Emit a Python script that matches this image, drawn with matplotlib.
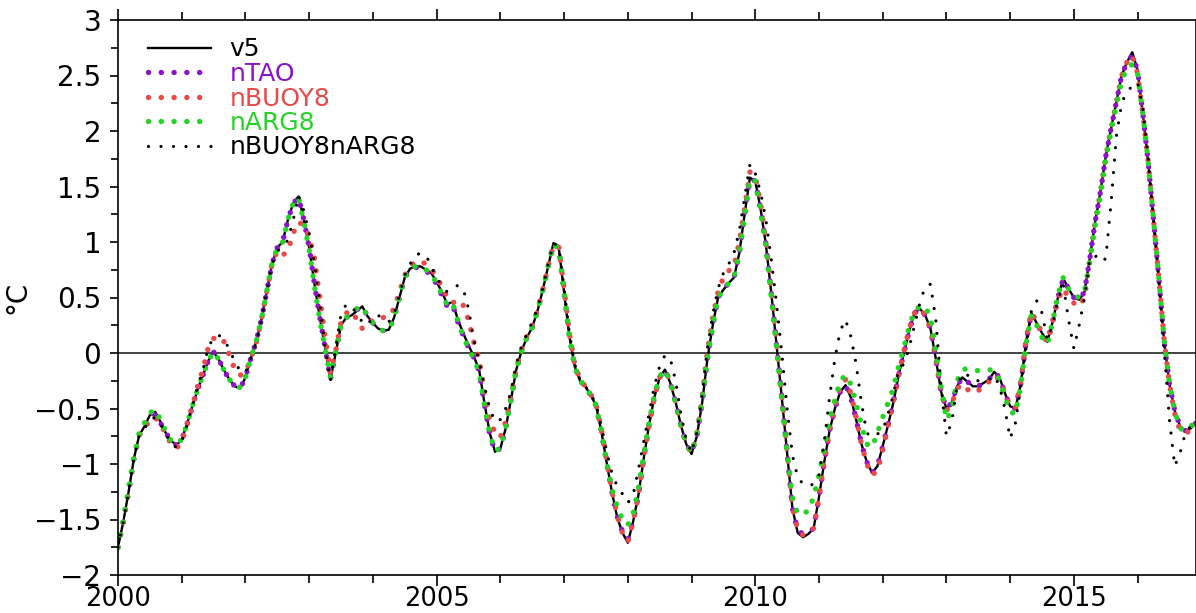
import numpy as np
import matplotlib
matplotlib.use("Agg")
import matplotlib.pyplot as plt
from matplotlib.ticker import MultipleLocator, FuncFormatter

# ---- data (monthly, Jan 2000 .. Dec 2016) ----
start_year = 2000
v5 = [
    -1.75,-1.52,-1.25,-0.95,-0.74,-0.66,-0.56,-0.53,-0.62,-0.72,-0.79,-0.83,
    -0.78,-0.64,-0.48,-0.33,-0.20,-0.07,0.01,-0.06,-0.16,-0.24,-0.30,-0.32,
    -0.22,-0.05,0.10,0.30,0.55,0.80,0.95,1.00,1.20,1.35,1.41,1.20,
    0.95,0.62,0.32,0.05,-0.24,0.00,0.25,0.32,0.34,0.38,0.42,0.33,
    0.27,0.22,0.20,0.21,0.32,0.50,0.68,0.76,0.78,0.78,0.75,0.72,
    0.64,0.55,0.44,0.46,0.30,0.18,0.07,-0.03,-0.15,-0.45,-0.72,-0.89,
    -0.86,-0.68,-0.42,-0.15,0.02,0.14,0.23,0.38,0.57,0.78,0.99,0.95,
    0.55,0.15,-0.12,-0.25,-0.30,-0.38,-0.47,-0.70,-0.98,-1.25,-1.48,-1.62,
    -1.71,-1.52,-1.28,-0.95,-0.65,-0.40,-0.22,-0.15,-0.27,-0.44,-0.65,-0.82,
    -0.91,-0.75,-0.45,-0.05,0.25,0.50,0.57,0.63,0.68,0.90,1.25,1.58,
    1.55,1.30,0.98,0.55,0.08,-0.40,-0.90,-1.40,-1.62,-1.66,-1.63,-1.58,
    -1.30,-0.98,-0.70,-0.50,-0.35,-0.29,-0.40,-0.60,-0.82,-0.98,-1.08,-1.02,
    -0.84,-0.65,-0.45,-0.20,0.00,0.20,0.36,0.40,0.34,0.22,-0.05,-0.35,
    -0.50,-0.45,-0.30,-0.22,-0.26,-0.30,-0.30,-0.27,-0.24,-0.17,-0.22,-0.36,
    -0.48,-0.50,-0.28,0.10,0.36,0.27,0.18,0.10,0.28,0.50,0.67,0.58,
    0.50,0.48,0.55,0.85,1.18,1.45,1.77,2.02,2.26,2.50,2.62,2.71,
    2.55,2.15,1.72,1.20,0.68,0.10,-0.28,-0.52,-0.66,-0.70,-0.68,-0.63,
]
nTAO = [
    -1.75,-1.52,-1.25,-0.95,-0.74,-0.66,-0.57,-0.55,-0.63,-0.72,-0.79,-0.83,
    -0.78,-0.64,-0.48,-0.33,-0.20,-0.07,0.01,-0.06,-0.16,-0.24,-0.30,-0.32,
    -0.22,-0.05,0.10,0.30,0.55,0.80,0.95,1.00,1.20,1.35,1.40,1.20,
    0.95,0.62,0.32,0.05,-0.24,0.00,0.25,0.32,0.35,0.39,0.42,0.33,
    0.27,0.22,0.20,0.21,0.32,0.50,0.68,0.75,0.77,0.77,0.74,0.70,
    0.62,0.52,0.42,0.44,0.28,0.16,0.05,-0.04,-0.16,-0.46,-0.73,-0.89,
    -0.86,-0.68,-0.42,-0.15,0.02,0.14,0.23,0.38,0.57,0.78,0.98,0.95,
    0.55,0.15,-0.12,-0.25,-0.30,-0.38,-0.47,-0.70,-0.98,-1.25,-1.47,-1.61,
    -1.68,-1.52,-1.28,-0.95,-0.65,-0.40,-0.22,-0.15,-0.27,-0.44,-0.65,-0.82,
    -0.90,-0.75,-0.45,-0.05,0.25,0.50,0.57,0.63,0.68,0.90,1.25,1.57,
    1.55,1.30,0.98,0.55,0.08,-0.40,-0.90,-1.40,-1.60,-1.63,-1.62,-1.58,
    -1.30,-0.98,-0.70,-0.50,-0.35,-0.29,-0.40,-0.60,-0.82,-0.98,-1.08,-1.02,
    -0.84,-0.65,-0.45,-0.20,0.00,0.20,0.36,0.40,0.34,0.22,-0.05,-0.35,
    -0.50,-0.45,-0.30,-0.22,-0.26,-0.30,-0.30,-0.27,-0.24,-0.17,-0.22,-0.36,
    -0.48,-0.50,-0.28,0.10,0.36,0.27,0.18,0.10,0.28,0.50,0.67,0.58,
    0.50,0.48,0.55,0.85,1.18,1.45,1.77,2.02,2.26,2.50,2.62,2.68,
    2.55,2.15,1.72,1.20,0.68,0.10,-0.28,-0.52,-0.66,-0.70,-0.68,-0.63,
]
nBUOY8 = [
    -1.75,-1.52,-1.25,-0.95,-0.74,-0.68,-0.60,-0.58,-0.64,-0.73,-0.82,-0.86,
    -0.80,-0.65,-0.48,-0.30,-0.15,0.05,0.13,0.15,0.10,-0.02,-0.15,-0.20,
    -0.18,-0.05,0.08,0.30,0.55,0.80,0.92,0.88,0.92,1.08,1.18,1.15,
    1.05,0.85,0.50,0.15,-0.18,0.02,0.28,0.36,0.38,0.30,0.22,0.24,
    0.30,0.32,0.32,0.33,0.40,0.55,0.70,0.78,0.82,0.83,0.80,0.76,
    0.68,0.60,0.50,0.45,0.48,0.43,0.30,0.10,-0.05,-0.35,-0.60,-0.72,
    -0.76,-0.62,-0.40,-0.14,0.03,0.15,0.24,0.38,0.57,0.78,0.97,0.96,
    0.58,0.18,-0.10,-0.24,-0.30,-0.37,-0.46,-0.68,-0.96,-1.24,-1.46,-1.62,
    -1.70,-1.52,-1.28,-0.95,-0.65,-0.40,-0.22,-0.17,-0.24,-0.44,-0.65,-0.82,
    -0.90,-0.74,-0.40,0.02,0.32,0.55,0.68,0.74,0.78,1.00,1.30,1.63,
    1.60,1.35,1.00,0.57,0.10,-0.38,-0.88,-1.38,-1.60,-1.64,-1.62,-1.58,
    -1.30,-0.98,-0.70,-0.48,-0.30,-0.24,-0.36,-0.58,-0.82,-1.00,-1.10,-1.06,
    -0.88,-0.66,-0.44,-0.20,0.02,0.22,0.36,0.40,0.34,0.22,-0.05,-0.36,
    -0.52,-0.46,-0.32,-0.28,-0.33,-0.36,-0.34,-0.30,-0.26,-0.20,-0.24,-0.36,
    -0.48,-0.50,-0.26,0.12,0.37,0.28,0.18,0.10,0.28,0.48,0.58,0.50,
    0.45,0.42,0.50,0.84,1.18,1.45,1.77,2.02,2.26,2.50,2.62,2.68,
    2.52,2.15,1.72,1.20,0.68,0.12,-0.28,-0.55,-0.70,-0.72,-0.70,-0.64,
]
nARG8 = [
    -1.75,-1.50,-1.22,-0.93,-0.72,-0.63,-0.54,-0.51,-0.60,-0.71,-0.79,-0.82,
    -0.78,-0.64,-0.48,-0.33,-0.20,-0.07,0.01,-0.06,-0.16,-0.24,-0.30,-0.31,
    -0.22,-0.05,0.10,0.30,0.55,0.80,0.95,1.00,1.20,1.35,1.40,1.18,
    0.93,0.60,0.30,0.04,-0.22,0.01,0.25,0.32,0.36,0.40,0.42,0.33,
    0.27,0.22,0.20,0.21,0.32,0.50,0.68,0.76,0.78,0.78,0.75,0.71,
    0.63,0.53,0.43,0.45,0.29,0.15,0.04,-0.05,-0.17,-0.47,-0.73,-0.88,
    -0.86,-0.68,-0.42,-0.15,0.02,0.14,0.23,0.38,0.57,0.78,0.98,0.94,
    0.55,0.15,-0.12,-0.25,-0.30,-0.38,-0.47,-0.70,-0.98,-1.22,-1.38,-1.50,
    -1.55,-1.45,-1.22,-0.92,-0.63,-0.38,-0.21,-0.15,-0.27,-0.44,-0.65,-0.82,
    -0.90,-0.74,-0.44,-0.05,0.25,0.50,0.57,0.63,0.68,0.90,1.22,1.57,
    1.55,1.28,0.96,0.52,0.05,-0.42,-0.90,-1.30,-1.45,-1.45,-1.42,-1.30,
    -1.10,-0.85,-0.60,-0.42,-0.25,-0.20,-0.28,-0.45,-0.65,-0.82,-0.85,-0.72,
    -0.58,-0.45,-0.32,-0.12,0.05,0.24,0.38,0.42,0.42,0.32,0.02,-0.30,
    -0.60,-0.52,-0.25,-0.15,-0.14,-0.15,-0.16,-0.16,-0.15,-0.16,-0.24,-0.40,
    -0.53,-0.55,-0.30,0.08,0.34,0.25,0.14,0.08,0.28,0.52,0.68,0.58,
    0.52,0.50,0.55,0.83,1.15,1.42,1.74,2.00,2.23,2.45,2.57,2.60,
    2.52,2.15,1.72,1.20,0.68,0.12,-0.27,-0.52,-0.68,-0.70,-0.66,-0.62,
]
nBUOY8nARG8 = [
    -1.75,-1.52,-1.25,-0.95,-0.74,-0.68,-0.60,-0.58,-0.64,-0.73,-0.82,-0.85,
    -0.80,-0.65,-0.48,-0.30,-0.15,0.05,0.14,0.16,0.12,0.03,-0.08,-0.16,
    -0.18,-0.05,0.08,0.30,0.55,0.80,0.92,0.95,1.02,1.20,1.42,1.28,
    1.08,0.80,0.45,0.05,-0.25,0.05,0.35,0.44,0.42,0.35,0.28,0.25,
    0.33,0.34,0.30,0.28,0.35,0.52,0.70,0.80,0.88,0.90,0.88,0.78,
    0.68,0.60,0.55,0.58,0.61,0.58,0.40,0.12,-0.08,-0.30,-0.50,-0.62,
    -0.60,-0.50,-0.35,-0.10,0.06,0.17,0.28,0.40,0.58,0.80,0.99,0.96,
    0.58,0.18,-0.10,-0.24,-0.30,-0.37,-0.46,-0.65,-0.88,-1.08,-1.20,-1.27,
    -1.35,-1.28,-1.05,-0.80,-0.55,-0.30,-0.12,-0.02,-0.05,-0.25,-0.55,-0.78,
    -0.90,-0.72,-0.38,0.05,0.35,0.58,0.72,0.80,0.90,1.10,1.40,1.70,
    1.62,1.45,1.20,0.85,0.45,0.00,-0.50,-0.92,-1.12,-1.18,-1.20,-1.18,
    -1.10,-0.80,-0.40,-0.05,0.20,0.30,0.15,-0.10,-0.45,-0.72,-0.76,-0.73,
    -0.70,-0.55,-0.38,-0.15,-0.10,0.05,0.25,0.45,0.60,0.62,0.30,-0.30,
    -0.75,-0.62,-0.30,-0.18,-0.20,-0.25,-0.25,-0.25,-0.24,-0.20,-0.30,-0.50,
    -0.77,-0.63,-0.30,0.05,0.38,0.47,0.36,0.12,0.25,0.48,0.62,0.30,
    0.04,0.25,0.50,0.85,0.88,0.82,0.85,1.35,1.95,2.25,2.36,2.40,
    2.44,2.20,1.75,1.20,0.65,0.05,-0.60,-1.02,-0.90,-0.72,-0.66,-0.63,
]
series_names = ["v5", "nTAO", "nBUOY8", "nARG8", "nBUOY8nARG8"]
series_values = [v5, nTAO, nBUOY8, nARG8, nBUOY8nARG8]
ylabel_text = "°C"

# ---- styling ----
plt.rcParams['font.family'] = ['DejaVu Sans']
fig = plt.figure(figsize=(11.96, 6.13), dpi=100)
ax = fig.add_axes([118/1196, 38/613, 1 - 118/1196, (575-20)/613])

n = len(v5)
years = start_year + np.arange(n) / 12.0

styles = {
    "v5": dict(color="black", lw=1.7, ls="-"),
    "nTAO": dict(color="#8a14c8", lw=3.9, ls=(0, (0.01, 2.35)), dash_capstyle="round"),
    "nBUOY8": dict(color="#e84a4a", lw=3.9, ls=(0, (0.01, 2.35)), dash_capstyle="round"),
    "nARG8": dict(color="#24d424", lw=3.9, ls=(0, (0.01, 2.35)), dash_capstyle="round"),
    "nBUOY8nARG8": dict(color="black", lw=2.3, ls=(0, (0.01, 3.9)), dash_capstyle="round"),
}

ax.axhline(0, color="#222222", lw=1.2, zorder=1)
lines = []
for name, vals in zip(series_names, series_values):
    ln, = ax.plot(years, vals, label=name, zorder=2, **styles[name])
    lines.append(ln)

ax.set_xlim(2000, years[-1])
ax.set_ylim(-2, 3)

ax.xaxis.set_major_locator(MultipleLocator(5))
ax.xaxis.set_minor_locator(MultipleLocator(1))
ax.yaxis.set_major_locator(MultipleLocator(0.5))
ax.yaxis.set_minor_locator(MultipleLocator(0.25))

def fmt(v, pos):
    s = "%g" % round(v, 3)
    return s.replace("-", "\u2212")
ax.yaxis.set_major_formatter(FuncFormatter(fmt))
ax.xaxis.set_major_formatter(FuncFormatter(lambda v, p: "%d" % round(v)))

ax.tick_params(axis="x", which="both", direction="out", top=True, bottom=True,
               labelsize=18.5, pad=0, width=1.2)
ax.tick_params(axis="x", which="major", length=8)
ax.tick_params(axis="x", which="minor", length=6)
ax.tick_params(axis="y", which="both", direction="out", left=True, right=False,
               labelsize=20, pad=6, width=1.2)
ax.tick_params(axis="y", which="major", length=6)
ax.tick_params(axis="y", which="minor", length=5)
for sp in ax.spines.values():
    sp.set_linewidth(1.2)

ax.set_ylabel(ylabel_text, fontsize=20)
ax.yaxis.set_label_coords(-0.08, 0.5)

leg = ax.legend(loc="upper left", bbox_to_anchor=(0.012, 1.0), frameon=False,
                fontsize=18, handlelength=2.5, handletextpad=0.75,
                labelspacing=0.02, borderaxespad=0.3)
for txt, ln in zip(leg.get_texts(), lines):
    txt.set_color(ln.get_color())

fig.savefig("out.png", dpi=100)
